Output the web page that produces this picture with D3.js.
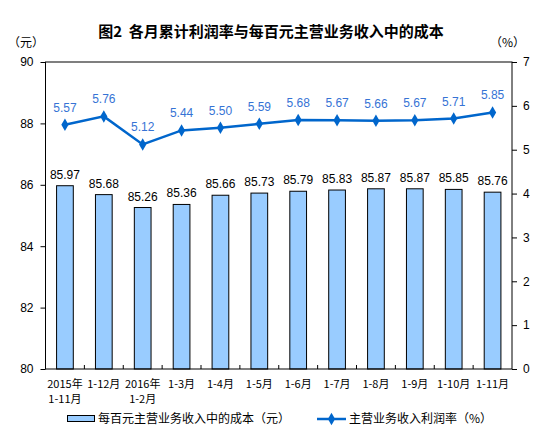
<!DOCTYPE html>
<html>
<head>
<meta charset="utf-8">
<script src="https://cdn.jsdelivr.net/npm/d3@7/dist/d3.min.js"></script>
<style>
  body { margin: 0; background: #fff; }
  text { font-family: "Liberation Sans", Arial, "Noto Sans CJK SC", sans-serif; }
  .cjk { font-family: "Noto Sans CJK SC", sans-serif; }
</style>
</head>
<body>
<div id="chart"></div>
<script>
// categories (two lines where the original wraps)
var categories = [
  ["2015年", "1-11月"], ["1-12月"], ["2016年", "1-2月"], ["1-3月"], ["1-4月"], ["1-5月"],
  ["1-6月"], ["1-7月"], ["1-8月"], ["1-9月"], ["1-10月"], ["1-11月"]
];
// 每百元主营业务收入中的成本（元）
var costValues = [85.97, 85.68, 85.26, 85.36, 85.66, 85.73, 85.79, 85.83, 85.87, 85.87, 85.85, 85.76];
// 主营业务收入利润率（%）
var rateValues = [5.57, 5.76, 5.12, 5.44, 5.50, 5.59, 5.68, 5.67, 5.66, 5.67, 5.71, 5.85];
var leftTicks = [80, 82, 84, 86, 88, 90];
var rightTicks = [0, 1, 2, 3, 4, 5, 6, 7];

var width = 550, height = 446;
var plotLeft = 45.5, plotRight = 512, plotTop = 62, plotBottom = 369;

var barColor = '#99CCFF';
var lineColor = '#0066CC';
var labelBlue = '#3673D5';

var svg = d3.select("#chart")
  .append("svg")
  .attr("width", width)
  .attr("height", height);

var x = d3.scaleBand()
  .domain(d3.range(categories.length))
  .range([plotLeft, plotRight])
  .padding(0);

var yLeft = d3.scaleLinear().domain([80, 90]).range([plotBottom, plotTop]);
var yRight = d3.scaleLinear().domain([0, 7]).range([plotBottom, plotTop]);

var barW = x.bandwidth() * 0.43;

// title
svg.append("text")
  .attr("class", "cjk")
  .attr("x", 271)
  .attr("y", 37)
  .attr("text-anchor", "middle")
  .style("font-size", "15px")
  .style("font-weight", "bold")
  .style("white-space", "pre")
  .text("图2  各月累计利润率与每百元主营业务收入中的成本");

// unit labels
svg.append("text").attr("class", "cjk")
  .attr("x", 8).attr("y", 47)
  .style("font-size", "12px")
  .text("（元）");
svg.append("text").attr("class", "cjk")
  .attr("x", 490).attr("y", 47)
  .style("font-size", "12px")
  .text("（%）");

// bars
svg.selectAll("rect.bar")
  .data(costValues)
  .enter()
  .append("rect")
  .attr("class", "bar")
  .attr("x", function(d, i) { return x(i) + x.bandwidth() / 2 - barW / 2; })
  .attr("y", function(d) { return yLeft(d); })
  .attr("width", barW)
  .attr("height", function(d) { return plotBottom - yLeft(d); })
  .style("fill", barColor)
  .style("stroke", "#000")
  .style("stroke-width", 1);

// bar labels
svg.selectAll("text.barlabel")
  .data(costValues)
  .enter()
  .append("text")
  .attr("class", "barlabel")
  .attr("x", function(d, i) { return x(i) + x.bandwidth() / 2; })
  .attr("y", function(d) { return yLeft(d) - 7; })
  .attr("text-anchor", "middle")
  .style("font-size", "12px")
  .style("fill", "#000")
  .text(function(d) { return d.toFixed(2); });

// plot frame
svg.append("rect")
  .attr("x", plotLeft)
  .attr("y", plotTop)
  .attr("width", plotRight - plotLeft)
  .attr("height", plotBottom - plotTop)
  .style("fill", "none")
  .style("stroke", "#000")
  .style("stroke-width", 1);

// left axis
var leftAxis = d3.axisLeft(yLeft).tickValues(leftTicks).tickFormat(d3.format("d")).tickSize(5).tickPadding(7);
var gl = svg.append("g")
  .attr("transform", "translate(" + plotLeft + ",0)")
  .call(leftAxis);
gl.select(".domain").remove();
gl.selectAll("text").style("font-size", "12px").style("font-family", "'Liberation Sans', Arial, sans-serif");

// right axis
var rightAxis = d3.axisRight(yRight).tickValues(rightTicks).tickFormat(d3.format("d")).tickSize(5).tickPadding(6);
var gr = svg.append("g")
  .attr("transform", "translate(" + plotRight + ",0)")
  .call(rightAxis);
gr.select(".domain").remove();
gr.selectAll("text").style("font-size", "12px").style("font-family", "'Liberation Sans', Arial, sans-serif");

// category tick marks (inside, between categories)
svg.selectAll("line.xtick")
  .data(d3.range(1, categories.length))
  .enter()
  .append("line")
  .attr("class", "xtick")
  .attr("x1", function(i) { return x(i); })
  .attr("x2", function(i) { return x(i); })
  .attr("y1", plotBottom)
  .attr("y2", plotBottom - 4)
  .style("stroke", "#000");

// category labels
var xl = svg.selectAll("text.xlabel")
  .data(categories)
  .enter()
  .append("text")
  .attr("class", "xlabel cjk")
  .attr("text-anchor", "middle")
  .style("font-size", "11px");
xl.selectAll("tspan")
  .data(function(d, i) { return d.map(function(s) { return { s: s, i: i }; }); })
  .enter()
  .append("tspan")
  .attr("x", function(d) { return x(d.i) + x.bandwidth() / 2; })
  .attr("y", function(d, j) { return 388 + j * 15; })
  .text(function(d) { return d.s; });

// line
var line = d3.line()
  .x(function(d, i) { return x(i) + x.bandwidth() / 2; })
  .y(function(d) { return yRight(d); });

svg.append("path")
  .datum(rateValues)
  .attr("d", line)
  .style("fill", "none")
  .style("stroke", lineColor)
  .style("stroke-width", 2.5);

var diamond = d3.symbol().type(d3.symbolDiamond).size(45);
svg.selectAll("path.marker")
  .data(rateValues)
  .enter()
  .append("path")
  .attr("class", "marker")
  .attr("d", diamond)
  .attr("transform", function(d, i) { return "translate(" + (x(i) + x.bandwidth() / 2) + "," + yRight(d) + ")"; })
  .style("fill", lineColor);

svg.selectAll("text.linelabel")
  .data(rateValues)
  .enter()
  .append("text")
  .attr("class", "linelabel")
  .attr("x", function(d, i) { return x(i) + x.bandwidth() / 2; })
  .attr("y", function(d) { return yRight(d) - 13; })
  .attr("text-anchor", "middle")
  .style("font-size", "12px")
  .style("fill", labelBlue)
  .text(function(d) { return d.toFixed(2); });

// legend
var legend = svg.append("g");
legend.append("rect")
  .attr("x", 67.5).attr("y", 415.5)
  .attr("width", 27).attr("height", 6)
  .style("fill", barColor)
  .style("stroke", "#000");
legend.append("text").attr("class", "cjk")
  .attr("x", 98).attr("y", 423)
  .style("font-size", "12px")
  .text("每百元主营业务收入中的成本（元）");
legend.append("line")
  .attr("x1", 317).attr("x2", 346)
  .attr("y1", 419).attr("y2", 419)
  .style("stroke", lineColor)
  .style("stroke-width", 2.5);
legend.append("path")
  .attr("d", diamond)
  .attr("transform", "translate(331.5,419)")
  .style("fill", lineColor);
legend.append("text").attr("class", "cjk")
  .attr("x", 349).attr("y", 423)
  .style("font-size", "12px")
  .text("主营业务收入利润率（%）");
</script>
</body>
</html>
